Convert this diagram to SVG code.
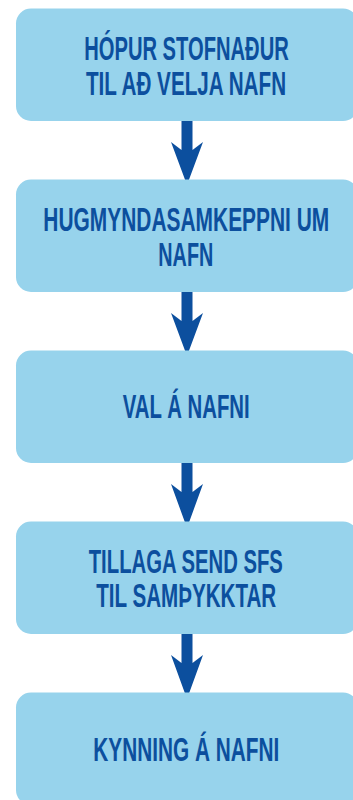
<svg xmlns="http://www.w3.org/2000/svg" width="353" height="800" viewBox="0 0 353 800">
<style>
.box{fill:#97d3ec;}
.t{font-family:"Liberation Sans",Arial,sans-serif;font-weight:bold;font-size:34px;fill:#0c4f9e;text-anchor:middle;}
.arr{fill:#0c4f9e;}
</style>
<rect x="0" y="0" width="353" height="800" fill="#ffffff"/>
<g id="connectors">
<polygon class="arr" points="181.5,120 192.5,120 192.5,150 203,142 187,185 171,142 181.5,150"/>
<polygon class="arr" points="181.5,291 192.5,291 192.5,321 203,313 187,356 171,313 181.5,321"/>
<polygon class="arr" points="181.5,462 192.5,462 192.5,492 203,484 187,528 171,484 181.5,492"/>
<polygon class="arr" points="181.5,633 192.5,633 192.5,663 203,655 187,699 171,655 181.5,663"/>
</g>
<g id="n1">
<rect class="box" x="16" y="8.5" width="342" height="112.5" rx="15"/>
<text class="t" transform="translate(186.5,60) scale(0.593,1)">HÓPUR STOFNAÐUR</text>
<text class="t" transform="translate(186,95) scale(0.608,1)">TIL AÐ VELJA NAFN</text>
</g>
<g id="n2">
<rect class="box" x="16" y="179.5" width="342" height="112.5" rx="15"/>
<text class="t" transform="translate(186.3,231) scale(0.6155,1)">HUGMYNDASAMKEPPNI UM</text>
<text class="t" transform="translate(185.8,266) scale(0.5825,1)">NAFN</text>
</g>
<g id="n3">
<rect class="box" x="16" y="350.5" width="342" height="112.5" rx="15"/>
<text class="t" transform="translate(186.2,418.3) scale(0.599,1)">VAL Á NAFNI</text>
</g>
<g id="n4">
<rect class="box" x="16" y="521.5" width="342" height="112.5" rx="15"/>
<text class="t" transform="translate(185.8,572.6) scale(0.5967,1)">TILLAGA SEND SFS</text>
<text class="t" transform="translate(186.2,607.4) scale(0.606,1)">TIL SAMÞYKKTAR</text>
</g>
<g id="n5">
<rect class="box" x="16" y="692.5" width="342" height="112.5" rx="15"/>
<text class="t" transform="translate(186.3,761) scale(0.6117,1)">KYNNING Á NAFNI</text>
</g>
</svg>
